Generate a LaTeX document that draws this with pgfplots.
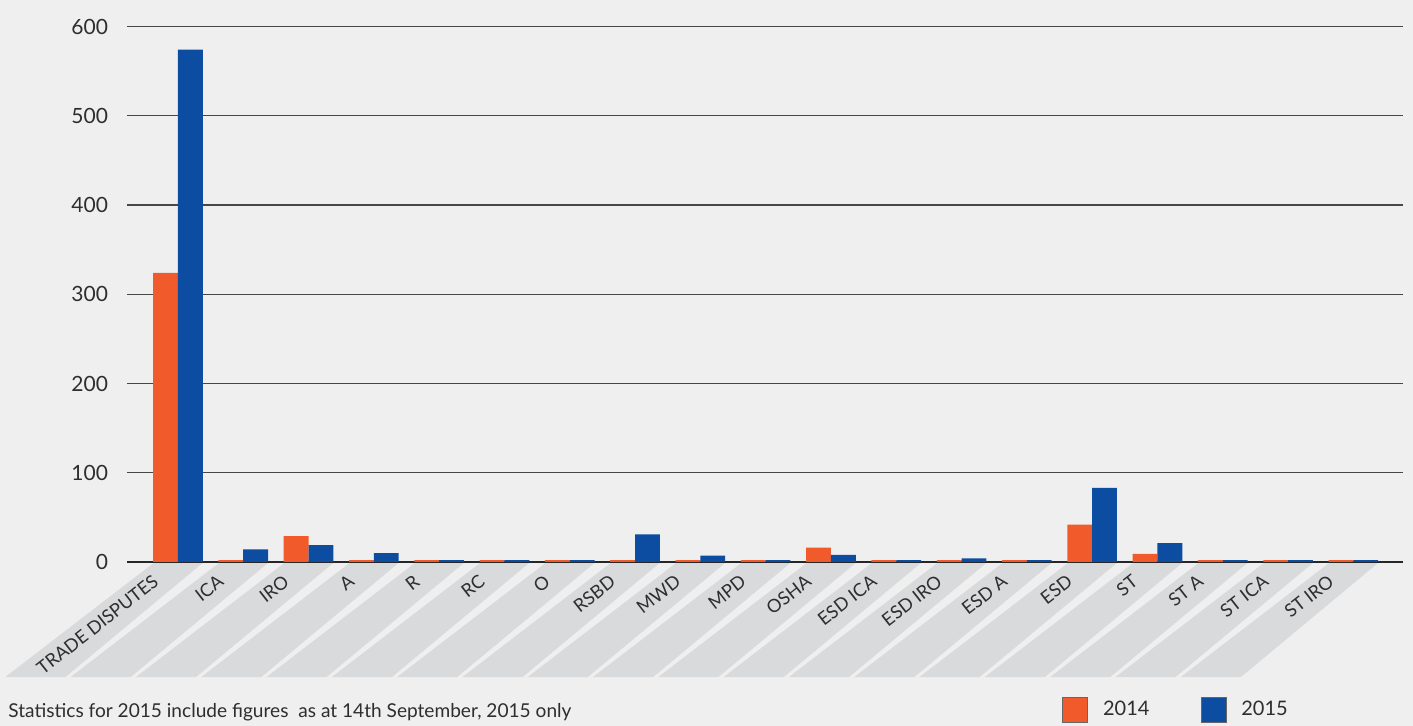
\documentclass[border=0pt]{standalone}
\usepackage{pgfplots}
\pgfplotsset{compat=1.18}
\usepackage{fontspec}
\setmainfont{Lato}

\definecolor{bgc}{HTML}{EFEFEF}
\definecolor{bandc}{HTML}{D9DADC}
\definecolor{c2014}{HTML}{F15A2B}
\definecolor{c2015}{HTML}{0D4DA1}
\definecolor{txt}{HTML}{2E2E2E}

% Cases per category (x = category index)
\pgfplotstableread{
x  y
0  324
1  2
2  29
3  2
4  2
5  2
6  2
7  2
8  2
9  2
10 16
11 2
12 2
13 2
14 42
15 9
16 2
17 2
18 2
}\yearA

\pgfplotstableread{
x  y
0  574
1  14
2  19
3  10
4  2
5  2
6  2
7  31
8  7
9  2
10 8
11 2
12 4
13 2
14 83
15 21
16 2
17 2
18 2
}\yearB

\pgfplotsset{
  frame/.style={
    at={(63.5pt,82pt)}, anchor=south west,
    scale only axis, width=638pt, height=267.75pt,
    xmin=-0.78, xmax=18.76, ymin=0, ymax=600,
    clip=false,
  },
}

\begin{document}
\begin{tikzpicture}[x=1pt,y=1pt]
\fill[bgc] (0,0) rectangle (706.5,363);

% slanted bands under the category names
\begin{axis}[frame, hide axis]
\pgfplotsinvokeforeach{0,...,18}{
  \fill[bandc] (axis cs:#1-0.375,-1.3) -- (axis cs:#1+0.375,-1.3)
    -- (axis cs:#1-1.725,-129) -- (axis cs:#1-2.645,-129) -- cycle;
}
\end{axis}

\begin{axis}[
  frame,
  ytick={0,100,...,600},
  xtick={0,...,18},
  xticklabels={TRADE DISPUTES, ICA, IRO, A, R, RC, O, RSBD, MWD, MPD, OSHA, ESD ICA, ESD IRO, ESD A, ESD, ST, ST A, ST ICA, ST IRO},
  xticklabel style={font=\fontsize{9.1}{11}\selectfont, text=txt, inner sep=0pt,
    xshift=-11pt, yshift=-8.5pt, anchor=east, rotate=38},
  axis line style={draw=none},
  major tick length=0pt,
  ymajorgrids, grid style={color=black!72, line width=0.6pt},
  extra y ticks={0}, extra y tick labels={},
  extra y tick style={grid style={color=black!85, line width=1.1pt}},
  yticklabel style={font=\fontsize{10.5}{12}\selectfont, text=txt, xshift=-6pt},
  /pgf/number format/assume math mode=true,
  ybar=0pt, bar width=0.38,
  legend columns=2,
  legend image code/.code={\draw[#1, draw=black!60, line width=0.4pt] (0pt,-6.25pt) rectangle (12.5pt,6.25pt);},
  legend style={at={(axis description cs:0.733,-0.276)}, anchor=west,
    draw=none, fill=none, inner sep=0pt, outer sep=0pt,
    font=\fontsize{10}{12}\selectfont, text=txt,
    nodes={inner sep=0pt},
    /tikz/every odd column/.append style={column sep=7.5pt},
    /tikz/every even column/.append style={column sep=25.5pt}},
]
\addplot[fill=c2014, draw=none] table[x=x,y=y] {\yearA};
\addplot[fill=c2015, draw=none] table[x=x,y=y] {\yearB};
\legend{2014,2015}
\end{axis}

\node[anchor=west, inner sep=0pt, text=txt, font=\fontsize{9.55}{11}\selectfont]
  at (4,7) {Statistics for 2015 include figures\ \ as at 14th September, 2015 only};
\pgfresetboundingbox
\useasboundingbox (0,0) rectangle (706.5,363);
\end{tikzpicture}
\end{document}
